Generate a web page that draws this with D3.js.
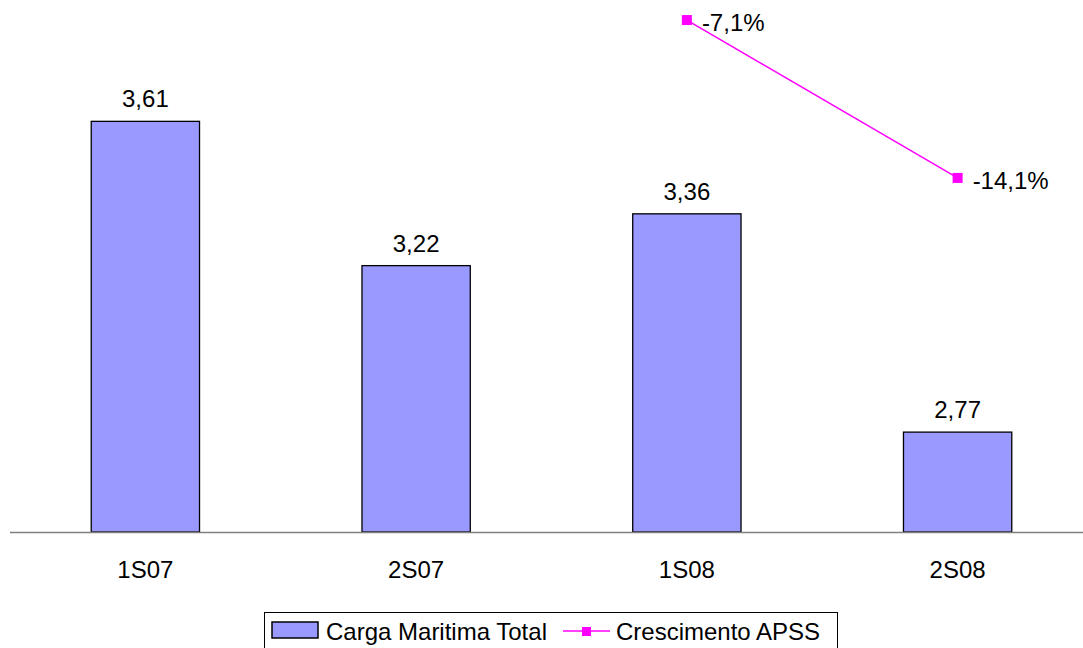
<!DOCTYPE html>
<html>
<head>
<meta charset="utf-8">
<script src="https://cdn.jsdelivr.net/npm/d3@7"></script>
<style>
  body { margin: 0; background: #fff; }
  text { font-family: "Liberation Sans", Arial, sans-serif; }
</style>
</head>
<body>
<div id="chart-area"></div>
<script>
// DATA
var categories = ["1S07", "2S07", "1S08", "2S08"];
var cargaValues = [3.61, 3.22, 3.36, 2.77];
var crescCategories = ["1S08", "2S08"];
var crescValues = [-7.1, -14.1];

var width = 1083;
var height = 648;
var fmt = function (v) { return String(v).replace(".", ","); };

var svg = d3.select("#chart-area")
    .append("svg")
    .attr("width", width)
    .attr("height", height);

// SCALES
var x = d3.scaleBand()
    .domain(categories)
    .range([10, 1093])
    .paddingInner(0.6)
    .paddingOuter(0.3);

var y = d3.scaleLinear()
    .domain([2.5, 3.938])
    .range([532, 0]);

var y2 = d3.scaleLinear()
    .domain([-29.8, -6.21])
    .range([532, 0]);

// BARS
svg.selectAll("rect.bar")
    .data(cargaValues)
    .enter()
    .append("rect")
    .attr("class", "bar")
    .attr("x", (d, i) => x(categories[i]))
    .attr("y", (d) => y(d))
    .attr("width", x.bandwidth())
    .attr("height", (d) => y(2.5) - y(d))
    .attr("fill", "#9999ff")
    .attr("stroke", "#000")
    .attr("stroke-width", 1.3);

svg.selectAll("text.bar-label")
    .data(cargaValues)
    .enter()
    .append("text")
    .attr("class", "bar-label")
    .attr("x", (d, i) => x(categories[i]) + x.bandwidth() / 2)
    .attr("y", (d) => y(d) - 14)
    .attr("text-anchor", "middle")
    .attr("font-size", "24px")
    .text((d) => fmt(d));

// X AXIS
var bottomAxis = d3.axisBottom(x).tickSize(0).tickPadding(29);
var xAxis = svg.append("g")
    .attr("transform", "translate(0," + y(2.5) + ")")
    .call(bottomAxis);
xAxis.select(".domain")
    .attr("d", "M10,0.5H1083")
    .attr("stroke", "#808080")
    .attr("stroke-width", 1.5);
xAxis.selectAll("text")
    .attr("font-size", "24px")
    .attr("fill", "#000")
    .style("font-family", "Liberation Sans, Arial, sans-serif");

// LINE
var line = d3.line()
    .x((d, i) => x(crescCategories[i]) + x.bandwidth() / 2)
    .y((d) => y2(d));

svg.append("path")
    .datum(crescValues)
    .attr("d", line)
    .attr("fill", "none")
    .attr("stroke", "#ff00ff")
    .attr("stroke-width", 1.5);

svg.selectAll("rect.marker")
    .data(crescValues)
    .enter()
    .append("rect")
    .attr("class", "marker")
    .attr("x", (d, i) => x(crescCategories[i]) + x.bandwidth() / 2 - 5)
    .attr("y", (d) => y2(d) - 5)
    .attr("width", 10)
    .attr("height", 10)
    .attr("fill", "#ff00ff");

svg.selectAll("text.line-label")
    .data(crescValues)
    .enter()
    .append("text")
    .attr("class", "line-label")
    .attr("x", (d, i) => x(crescCategories[i]) + x.bandwidth() / 2 + 15)
    .attr("y", (d) => y2(d) + 11)
    .attr("font-size", "24px")
    .text((d) => fmt(d) + "%");

// LEGEND
var legend = svg.append("g").attr("transform", "translate(264,612)");
legend.append("rect")
    .attr("x", 0.5)
    .attr("y", 0.5)
    .attr("width", 573)
    .attr("height", 40)
    .attr("fill", "#fff")
    .attr("stroke", "#000")
    .attr("stroke-width", 1);
legend.append("rect")
    .attr("x", 8)
    .attr("y", 10)
    .attr("width", 46)
    .attr("height", 16)
    .attr("fill", "#9999ff")
    .attr("stroke", "#000")
    .attr("stroke-width", 1.5);
legend.append("text")
    .attr("x", 62)
    .attr("y", 28)
    .attr("font-size", "24px")
    .text("Carga Maritima Total");
legend.append("line")
    .attr("x1", 299).attr("x2", 346)
    .attr("y1", 19).attr("y2", 19)
    .attr("stroke", "#ff00ff")
    .attr("stroke-width", 1.5);
legend.append("rect")
    .attr("x", 318).attr("y", 15)
    .attr("width", 9).attr("height", 9)
    .attr("fill", "#ff00ff");
legend.append("text")
    .attr("x", 352)
    .attr("y", 28)
    .attr("font-size", "24px")
    .text("Crescimento APSS");
</script>
</body>
</html>
